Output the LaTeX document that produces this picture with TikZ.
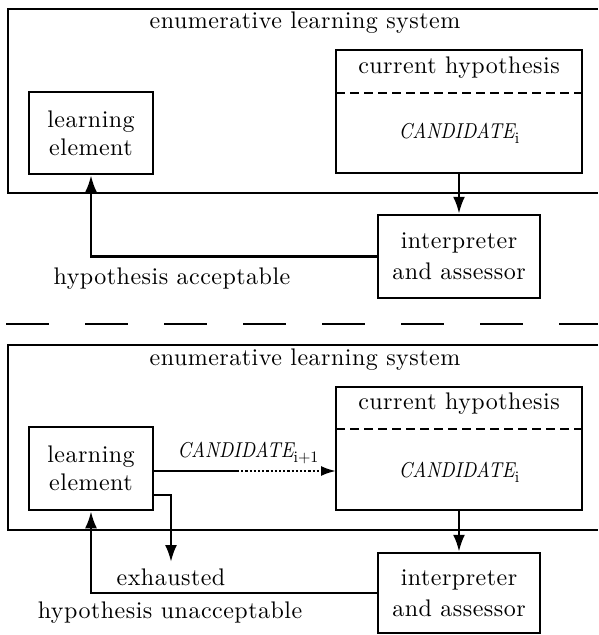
\documentclass[tikz,border=0pt]{standalone}
\usepackage{fontspec}
\setmainfont{lmroman10-regular.otf}[ItalicFont=lmroman10-italic.otf,LetterSpace=2]
\newfontfamily\candfont{lmroman10-italic.otf}
\newfontfamily\subfont{lmroman10-regular.otf}
\usetikzlibrary{arrows.meta,calc}
\newcommand{\candtext}[1]{\scalebox{0.88}[1]{\fontsize{21.5}{24}\candfont CANDIDATE}\raisebox{-5pt}{\fontsize{16}{16}\subfont #1}}
\begin{document}
\begin{tikzpicture}[x=1pt,y=-1pt,
  font=\fontsize{24}{28}\selectfont,
  box/.style={draw,line width=2.5pt,rectangle,inner sep=0pt,align=center},
  ibox/.style={box,font=\fontsize{24}{31}\selectfont},
  sys/.style={line width=2.2pt},
  lbl/.style={inner sep=0pt,align=center},
  cand/.style={inner sep=0pt},
  arr/.style={line width=2.5pt,-{Latex[length=17pt,width=12pt]}},
  conn/.style={line width=2.2pt}]
\useasboundingbox (0,0) rectangle (598,635);
% ---------- top half ----------
\coordinate (s1a) at (598,9);
\coordinate (s1b) at (8,9);
\coordinate (s1c) at (8,193);
\coordinate (s1d) at (598,193);
\draw[sys] (s1a) -- (s1b) -- (s1c) -- (s1d);
\node[lbl] (t1) at (305,23) {enumerative learning system};
\node[box,minimum width=124pt,minimum height=82pt] (learn1) at (91,133) {learning\\element};
\node[box,minimum width=246pt,minimum height=123pt] (hyp1) at (459,111.5) {};
\coordinate (d1l) at (336,93);
\coordinate (d1r) at (582,93);
\draw[line width=2.2pt,dash pattern=on 9pt off 5pt] (d1l) -- (d1r);
\node[lbl] (ch1) at (459,68) {current hypothesis};
\node[cand] (c1) at (459,133) {\candtext{i}};
\node[ibox,minimum width=162pt,minimum height=83pt] (int1) at (459,256.5) {interpreter\\and assessor};
\draw[arr] (hyp1.south) -- (int1.north);
\draw[arr] (int1.west) -| (learn1.south);
\node[lbl] (acc) at (172,279) {hypothesis acceptable};
% ---------- separator ----------
\coordinate (sepl) at (6,324);
\coordinate (sepr) at (598,324);
\draw[line width=2.6pt,dash pattern=on 43pt off 36pt] (sepl) -- (sepr);
% ---------- bottom half ----------
\coordinate (s2a) at (598,345);
\coordinate (s2b) at (8,345);
\coordinate (s2c) at (8,530);
\coordinate (s2d) at (598,530);
\draw[sys] (s2a) -- (s2b) -- (s2c) -- (s2d);
\node[lbl] (t2) at (305,360) {enumerative learning system};
\node[box,minimum width=124pt,minimum height=83pt] (learn2) at (91,468.5) {learning\\element};
\node[box,minimum width=246pt,minimum height=123pt] (hyp2) at (459,448.5) {};
\coordinate (d2l) at (336,429);
\coordinate (d2r) at (582,429);
\draw[line width=2.2pt,dash pattern=on 9pt off 5pt] (d2l) -- (d2r);
\node[lbl] (ch2) at (459,404) {current hypothesis};
\node[cand] (c2) at (459,472) {\candtext{i}};
\node[ibox,minimum width=162pt,minimum height=80pt] (int2) at (459,593) {interpreter\\and assessor};
\draw[arr] (hyp2.south) -- (int2.north);
\draw[arr] (int2.west) -| (learn2.south);
\node[lbl] (unacc) at (170,613) {hypothesis unacceptable};
% candidate i+1
\node[cand] (cn) at (248,453) {\candtext{i+1}};
\coordinate (mid) at (237,471);
\coordinate (hin) at (336,471);
\coordinate (lout) at (153,471);
\draw[conn] (lout) -- (mid);
\draw[line width=2.2pt,dotted,-{Latex[length=15pt,width=10pt]}] (mid) -- (hin);
% exhausted
\coordinate (ex0) at (153,495);
\node[lbl] (exh) at (171,577) {exhausted};
\coordinate (ex1) at (171,562);
\draw[arr] (ex0) -| (ex1);
\end{tikzpicture}
\end{document}
